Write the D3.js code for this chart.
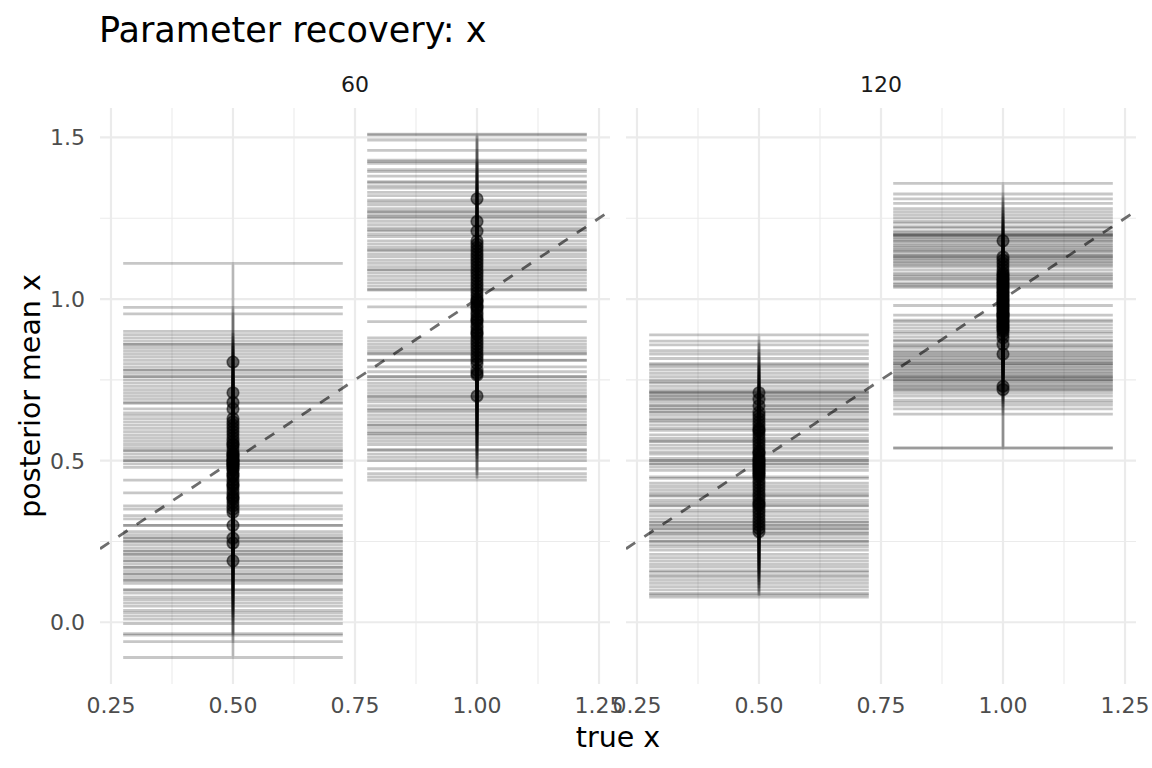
<!DOCTYPE html>
<html>
<head>
<meta charset="utf-8">
<script src="https://cdn.jsdelivr.net/npm/d3@7"></script>
<style>
  body { margin: 0; background: white; }
  svg { font-family: "DejaVu Sans", sans-serif; }
</style>
</head>
<body>
<div id="container"></div>
<script>
// facets, true values and ticks
let facets = ["60", "120"];
let trueVals = [0.5, 1.0];
let xTicks = [0.25, 0.5, 0.75, 1.0, 1.25];
let xMinor = [0.375, 0.625, 0.875, 1.125];
let yTicks = [0.0, 0.5, 1.0, 1.5];
let yMinor = [0.25, 0.75, 1.25];

// facet 60, true x = 0.5
let mean60a = [0.805,0.71,0.68,0.66,0.63,0.62,0.61,0.60,0.59,0.58,0.57,0.56,0.55,0.55,0.54,0.53,0.52,0.52,0.515,0.51,0.505,0.50,0.50,0.495,0.49,0.49,0.485,0.48,0.475,0.47,0.46,0.455,0.45,0.44,0.43,0.425,0.42,0.41,0.40,0.39,0.385,0.38,0.37,0.36,0.35,0.34,0.30,0.26,0.245,0.19];
let lo60a = [0.50,0.44,0.40,0.36,0.35,0.33,0.32,0.30,0.30,0.28,0.27,0.26,0.26,0.25,0.25,0.24,0.23,0.22,0.22,0.21,0.21,0.20,0.19,0.19,0.18,0.17,0.17,0.16,0.15,0.15,0.14,0.13,0.13,0.12,0.10,0.10,0.09,0.078,0.07,0.06,0.05,0.037,0.03,0.02,0.01,-0.004,-0.035,-0.04,-0.06,-0.109];
let hi60a = [1.11,0.974,0.954,0.90,0.89,0.88,0.87,0.86,0.86,0.85,0.84,0.83,0.82,0.81,0.80,0.79,0.78,0.78,0.77,0.76,0.76,0.75,0.74,0.73,0.72,0.71,0.70,0.69,0.68,0.677,0.66,0.648,0.64,0.63,0.62,0.61,0.60,0.59,0.58,0.57,0.56,0.55,0.54,0.53,0.532,0.52,0.51,0.50,0.49,0.479];

// facet 60, true x = 1.0
let mean60b = [1.31,1.24,1.21,1.18,1.17,1.16,1.15,1.14,1.13,1.12,1.11,1.10,1.09,1.08,1.07,1.06,1.05,1.04,1.03,1.02,1.01,1.00,0.995,0.99,0.98,0.975,0.97,0.96,0.95,0.94,0.935,0.93,0.92,0.91,0.90,0.895,0.89,0.88,0.87,0.86,0.85,0.84,0.83,0.82,0.81,0.80,0.78,0.77,0.765,0.70];
let lo60b = [1.09,0.976,0.93,0.88,0.87,0.86,0.85,0.84,0.83,0.832,0.811,0.81,0.79,0.775,0.76,0.76,0.75,0.739,0.73,0.72,0.71,0.70,0.698,0.69,0.682,0.67,0.66,0.656,0.65,0.64,0.63,0.62,0.61,0.61,0.60,0.59,0.584,0.58,0.57,0.56,0.55,0.533,0.533,0.52,0.51,0.50,0.475,0.46,0.45,0.44];
let hi60b = [1.51,1.508,1.492,1.46,1.425,1.43,1.42,1.40,1.394,1.38,1.363,1.36,1.35,1.343,1.33,1.32,1.306,1.30,1.291,1.28,1.27,1.27,1.26,1.255,1.25,1.24,1.23,1.22,1.214,1.21,1.20,1.193,1.18,1.17,1.16,1.152,1.15,1.14,1.131,1.12,1.11,1.10,1.09,1.08,1.07,1.06,1.05,1.04,1.03,1.028];

// facet 120, true x = 0.5
let mean120a = [0.71,0.69,0.67,0.65,0.64,0.63,0.62,0.61,0.60,0.595,0.59,0.58,0.57,0.56,0.55,0.54,0.53,0.525,0.52,0.51,0.505,0.50,0.495,0.49,0.485,0.48,0.475,0.47,0.465,0.46,0.455,0.45,0.44,0.43,0.42,0.41,0.40,0.39,0.38,0.37,0.365,0.36,0.35,0.34,0.33,0.32,0.31,0.30,0.29,0.28];
let lo120a = [0.50,0.49,0.47,0.45,0.445,0.43,0.42,0.41,0.40,0.393,0.39,0.378,0.37,0.362,0.36,0.347,0.34,0.33,0.32,0.31,0.31,0.30,0.30,0.29,0.29,0.28,0.275,0.27,0.26,0.25,0.25,0.24,0.233,0.223,0.21,0.20,0.19,0.18,0.171,0.16,0.155,0.146,0.14,0.13,0.12,0.11,0.10,0.089,0.085,0.078];
let hi120a = [0.889,0.87,0.858,0.84,0.83,0.816,0.80,0.796,0.79,0.78,0.77,0.76,0.75,0.744,0.74,0.73,0.72,0.713,0.71,0.71,0.70,0.70,0.69,0.69,0.68,0.67,0.67,0.66,0.66,0.65,0.65,0.64,0.63,0.625,0.62,0.61,0.60,0.594,0.58,0.569,0.56,0.56,0.548,0.538,0.527,0.52,0.507,0.50,0.49,0.48];

// facet 120, true x = 1.0
let mean120b = [1.18,1.13,1.12,1.11,1.10,1.09,1.08,1.075,1.07,1.065,1.06,1.055,1.05,1.045,1.04,1.035,1.03,1.025,1.02,1.015,1.01,1.005,1.00,0.995,0.99,0.985,0.98,0.975,0.97,0.965,0.96,0.955,0.95,0.945,0.94,0.935,0.93,0.925,0.92,0.915,0.91,0.905,0.90,0.89,0.88,0.86,0.83,0.73,0.72,0.95];
let lo120b = [0.98,0.93,0.92,0.91,0.90,0.894,0.883,0.873,0.87,0.86,0.855,0.85,0.84,0.835,0.83,0.825,0.82,0.815,0.81,0.805,0.80,0.80,0.795,0.79,0.785,0.78,0.775,0.77,0.765,0.76,0.759,0.755,0.75,0.745,0.74,0.734,0.73,0.725,0.72,0.718,0.71,0.70,0.687,0.68,0.672,0.66,0.644,0.538,0.54,0.75];
let hi120b = [1.358,1.325,1.31,1.296,1.28,1.27,1.26,1.25,1.24,1.235,1.224,1.22,1.21,1.205,1.20,1.198,1.198,1.195,1.19,1.185,1.18,1.177,1.17,1.165,1.16,1.155,1.15,1.147,1.14,1.135,1.131,1.125,1.12,1.115,1.11,1.105,1.10,1.09,1.08,1.075,1.07,1.064,1.06,1.05,1.045,1.04,1.036,0.95,0.935,1.13];

let groups = [
  {facet: "60", truth: 0.5, mean: mean60a, lo: lo60a, hi: hi60a},
  {facet: "60", truth: 1.0, mean: mean60b, lo: lo60b, hi: hi60b},
  {facet: "120", truth: 0.5, mean: mean120a, lo: lo120a, hi: hi120a},
  {facet: "120", truth: 1.0, mean: mean120b, lo: lo120b, hi: hi120b}
];

let W = 1152, H = 768;
let panelTop = 108, panelH = 576, panelW = 510;
let panelLeft = [100, 626];
let capW = 0.45;

let svg = d3.select("#container").append("svg")
  .attr("width", W).attr("height", H)
  .style("background-color", "white");

let xScale = d3.scaleLinear().domain([0.2275, 1.2725]).range([0, panelW]);
let yScale = d3.scaleLinear().domain([-0.191, 1.591]).range([panelH, 0]);

svg.append("defs").append("clipPath").attr("id", "panelclip")
  .append("rect").attr("x", 0).attr("y", 0).attr("width", panelW).attr("height", panelH);

// title
svg.append("text")
  .attr("x", 99).attr("y", 42)
  .attr("font-size", 35)
  .attr("fill", "black")
  .text("Parameter recovery: x");

facets.forEach(function(f, fi){
  let g = svg.append("g").attr("transform", "translate(" + panelLeft[fi] + "," + panelTop + ")");

  // grid
  g.selectAll(".xminor").data(xMinor).enter().append("line")
    .attr("x1", d => xScale(d)).attr("x2", d => xScale(d))
    .attr("y1", 0).attr("y2", panelH)
    .attr("stroke", "#ebebeb").attr("stroke-width", 1.1);
  g.selectAll(".yminor").data(yMinor).enter().append("line")
    .attr("x1", 0).attr("x2", panelW)
    .attr("y1", d => yScale(d)).attr("y2", d => yScale(d))
    .attr("stroke", "#ebebeb").attr("stroke-width", 1.1);
  g.selectAll(".xmajor").data(xTicks).enter().append("line")
    .attr("x1", d => xScale(d)).attr("x2", d => xScale(d))
    .attr("y1", 0).attr("y2", panelH)
    .attr("stroke", "#ebebeb").attr("stroke-width", 2.2);
  g.selectAll(".ymajor").data(yTicks).enter().append("line")
    .attr("x1", 0).attr("x2", panelW)
    .attr("y1", d => yScale(d)).attr("y2", d => yScale(d))
    .attr("stroke", "#ebebeb").attr("stroke-width", 2.2);

  // identity line
  g.append("line")
    .attr("clip-path", "url(#panelclip)")
    .attr("x1", xScale(0.2275)).attr("y1", yScale(0.2275))
    .attr("x2", xScale(1.2725)).attr("y2", yScale(1.2725))
    .attr("stroke", "#555555").attr("stroke-opacity", 0.85)
    .attr("stroke-width", 2.8).attr("stroke-dasharray", "11,11");

  let fg = groups.filter(d => d.facet == f);

  // error bars
  fg.forEach(function(grp){
    let rows = grp.mean.map((m, i) => ({x: grp.truth, mean: m, lo: grp.lo[i], hi: grp.hi[i]}));
    g.append("g").selectAll("path").data(rows).enter().append("path")
      .attr("d", function(d){
        let x0 = xScale(d.x - capW/2), x1 = xScale(d.x + capW/2), xm = xScale(d.x);
        let yl = yScale(d.lo), yh = yScale(d.hi);
        return "M" + x0 + "," + yh + "H" + x1 + "M" + xm + "," + yh + "V" + yl + "M" + x0 + "," + yl + "H" + x1;
      })
      .attr("fill", "none")
      .attr("stroke", "black").attr("stroke-opacity", 0.22).attr("stroke-width", 2.8);
  });

  // points
  fg.forEach(function(grp){
    let rows = grp.mean.map(m => ({x: grp.truth, mean: m}));
    g.append("g").selectAll("circle").data(rows).enter().append("circle")
      .attr("cx", d => xScale(d.x)).attr("cy", d => yScale(d.mean))
      .attr("r", 5.8)
      .attr("fill", "black").attr("fill-opacity", 0.55)
      .attr("stroke", "black").attr("stroke-opacity", 0.55).attr("stroke-width", 1.6);
  });

  // strip label
  svg.append("text")
    .attr("x", panelLeft[fi] + panelW/2).attr("y", 92)
    .attr("text-anchor", "middle")
    .attr("font-size", 22)
    .attr("fill", "#1a1a1a")
    .text(f);

  // x axis labels
  g.selectAll(".xlab").data(xTicks).enter().append("text")
    .attr("x", d => xScale(d)).attr("y", panelH + 29)
    .attr("text-anchor", "middle")
    .attr("font-size", 22)
    .attr("fill", "#4d4d4d")
    .text(d => d3.format(".2f")(d));
});

// y axis labels (left panel only)
svg.append("g").attr("transform", "translate(0," + panelTop + ")")
  .selectAll("text").data(yTicks).enter().append("text")
  .attr("x", 85).attr("y", d => yScale(d))
  .attr("dy", "0.36em")
  .attr("text-anchor", "end")
  .attr("font-size", 22)
  .attr("fill", "#4d4d4d")
  .text(d => d3.format(".1f")(d));

// axis titles
svg.append("text")
  .attr("x", 618).attr("y", 747)
  .attr("text-anchor", "middle")
  .attr("font-size", 28.5)
  .attr("fill", "black")
  .text("true x");

svg.append("text")
  .attr("transform", "translate(40," + (panelTop + panelH/2) + ") rotate(-90)")
  .attr("text-anchor", "middle")
  .attr("font-size", 28.5)
  .attr("fill", "black")
  .text("posterior mean x");
</script>
</body>
</html>
